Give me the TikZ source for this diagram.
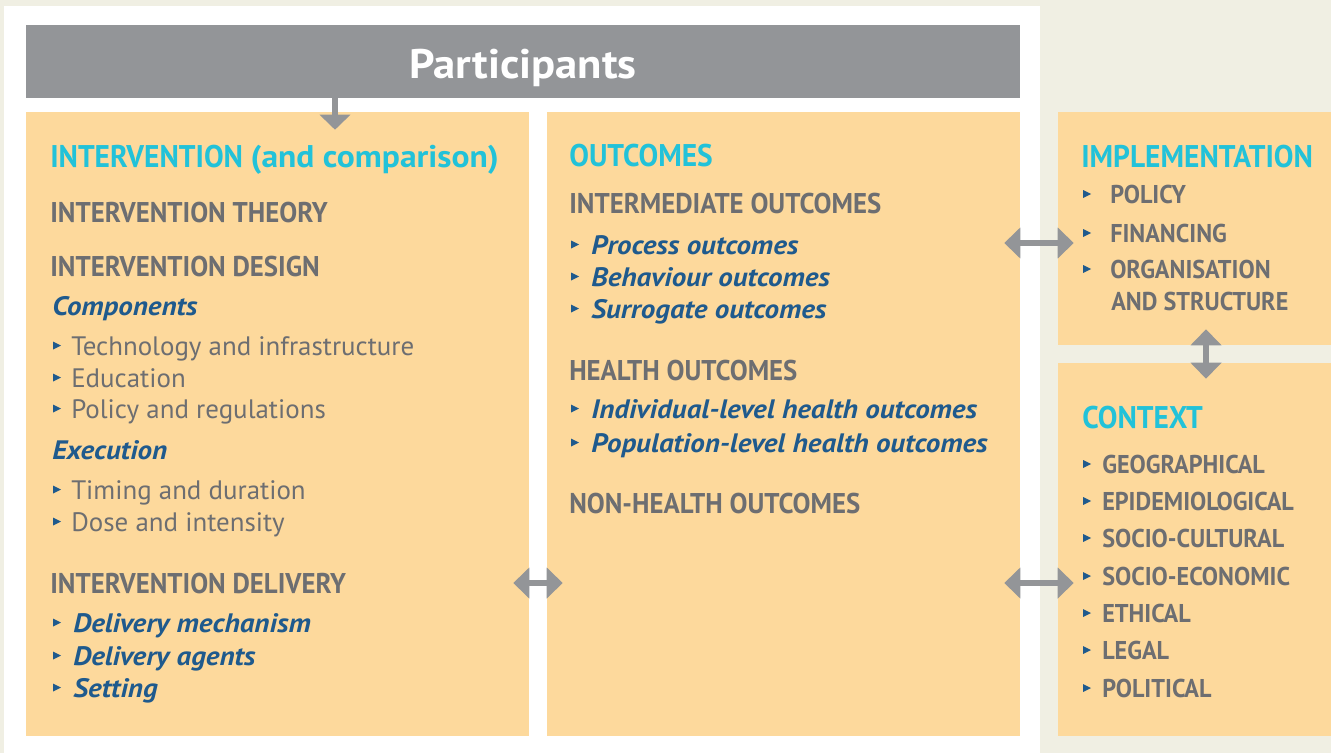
\documentclass[tikz,border=0pt]{standalone}
\usepackage{fontspec}
\setmainfont{PT Sans}
\newfontfamily\capsf{PT Sans}[FakeStretch=0.94]
\newfontfamily\lowbf{PT Sans}[FakeStretch=1.07]
\newfontfamily\itf{PT Sans}[FakeStretch=1.09]
\newfontfamily\regf{PT Sans}[FakeStretch=1.01]
\newfontfamily\partf{PT Sans}[FakeStretch=1.08]
\usetikzlibrary{arrows.meta,calc,fit}
\definecolor{bg}{HTML}{F0EFE3}
\definecolor{org}{HTML}{FDD99C}
\definecolor{gbar}{HTML}{939598}
\definecolor{cyn}{HTML}{22C2D9}
\definecolor{gtx}{HTML}{6D6E71}
\definecolor{blu}{HTML}{1F5A8D}
\tikzset{
  obox/.style={fill=org, inner sep=0pt, draw=none},
  gbox/.style={fill=gbar, inner sep=0pt, draw=none},
  txt/.style={anchor=base west, inner sep=0pt},
  ptxt/.style={anchor=base, inner sep=0pt, text=white, font=\partf\fontsize{31}{34}\selectfont\bfseries},
  cyanh/.style={txt, text=cyn, font=\capsf\fontsize{23.5}{26}\selectfont\bfseries},
  grayh/.style={txt, text=gtx, font=\capsf\fontsize{21.4}{24}\selectfont\bfseries},
  bluei/.style={txt, text=blu, font=\itf\fontsize{20}{24}\selectfont\bfseries\itshape},
  regt/.style={txt, text=gtx, font=\regf\fontsize{20}{24}\selectfont},
  righth/.style={txt, text=gtx, font=\capsf\fontsize{19.3}{22}\selectfont\bfseries},
  garrow/.style={draw=gbar, line width=4.5pt, {Triangle[length=12pt,width=22.5pt]}-{Triangle[length=12pt,width=22.5pt]}},
  gdown/.style={draw=gbar, line width=4.5pt, -{Triangle[length=11.25pt,width=22.5pt]}},
  bul/.pic={\fill[blu] (0,-4) -- (8,0) -- (0,4) -- cycle;}
}
\begin{document}
\begin{tikzpicture}[x=0.75pt,y=-0.75pt]
\useasboundingbox (0,0) rectangle (1331,753);
\fill[bg] (0,0) rectangle (1331,753);
\fill[white] (4,6) rectangle (1040,753);
% boxes
\node[gbox, fit={(26,25) (1020,98)}] (part) {};
\node[ptxt] (ptext) at (523,78) {Participants};
\node[obox, fit={(26,112) (529,736)}] (interv) {};
\node[obox, fit={(547,112) (1020,736)}] (outc) {};
\node[obox, fit={(1058,112) (1331,345)}] (impl) {};
\node[obox, fit={(1058,363) (1331,736)}] (ctx) {};
% helper coordinates
\coordinate (xp) at (335,0);
\coordinate (xv) at (1206,0);
\coordinate (ya) at (0,583);
\coordinate (yb) at (0,243);
% connectors
\draw[gdown] (part.south -| xp) -- ($(interv.north -| xp)+(0,18)$);
\draw[garrow] ($(interv.east |- ya)+(-16,0)$) -- ($(outc.west |- ya)+(16,0)$);
\draw[garrow] ($(outc.east |- yb)+(-16,0)$) -- ($(impl.west |- yb)+(16,0)$);
\draw[garrow] ($(outc.east |- ya)+(-16,0)$) -- ($(ctx.west |- ya)+(16,0)$);
\draw[garrow] ($(impl.south -| xv)+(0,-16)$) -- ($(ctx.north -| xv)+(0,16)$);
% left column
\node[cyanh] (t1) at (50,167) {INTERVENTION {\lowbf (and comparison)}};
\node[grayh] (t2) at (50,222) {INTERVENTION THEORY};
\node[grayh] (t3) at (50,276) {INTERVENTION DESIGN};
\node[bluei] (t4) at (52,315) {Components};
\node[regt] (t5) at (71,355) {Technology and infrastructure};
\node[regt] (t6) at (71,387) {Education};
\node[regt] (t7) at (71,418) {Policy and regulations};
\node[bluei] (t8) at (52,459) {Execution};
\node[regt] (t9) at (71,499) {Timing and duration};
\node[regt] (t10) at (71,531) {Dose and intensity};
\node[grayh] (t11) at (50,593) {INTERVENTION DELIVERY};
\node[bluei] (t12) at (73,632) {Delivery mechanism};
\node[bluei] (t13) at (73,665) {Delivery agents};
\node[bluei] (t14) at (73,697) {Setting};
\foreach \y in {355,387,418,499,531,632,665,697} \pic at (53,\y-9.5) {bul};
% middle column
\node[cyanh] (m1) at (569,166) {OUTCOMES};
\node[grayh] (m2) at (569,213) {INTERMEDIATE OUTCOMES};
\node[bluei] (m3) at (591,254) {Process outcomes};
\node[bluei] (m4) at (591,286) {Behaviour outcomes};
\node[bluei] (m5) at (591,318) {Surrogate outcomes};
\node[grayh] (m6) at (569,380) {HEALTH OUTCOMES};
\node[bluei] (m7) at (591,418) {Individual-level health outcomes};
\node[bluei] (m8) at (591,452) {Population-level health outcomes};
\node[grayh] (m9) at (569,513) {NON-HEALTH OUTCOMES};
\foreach \y in {254,286,318,418,452} \pic at (571,\y-9.5) {bul};
% right column
\node[cyanh] (r1) at (1081,167) {IMPLEMENTATION};
\node[righth] (r2) at (1110,203) {POLICY};
\node[righth] (r3) at (1110,242) {FINANCING};
\node[righth] (r4) at (1110,278) {ORGANISATION};
\node[righth] (r5) at (1111,310) {AND STRUCTURE};
\foreach \y in {203,242,278} \pic at (1083,\y-9) {bul};
\node[cyanh] (r6) at (1082,428) {CONTEXT};
\node[righth] (c1) at (1102,473) {GEOGRAPHICAL};
\node[righth] (c2) at (1102,510) {EPIDEMIOLOGICAL};
\node[righth] (c3) at (1102,547) {SOCIO-CULTURAL};
\node[righth] (c4) at (1102,585) {SOCIO-ECONOMIC};
\node[righth] (c5) at (1102,622) {ETHICAL};
\node[righth] (c6) at (1102,659) {LEGAL};
\node[righth] (c7) at (1102,697) {POLITICAL};
\foreach \y in {473,510,547,585,622,659,697} \pic at (1083,\y-9) {bul};
\end{tikzpicture}
\end{document}
